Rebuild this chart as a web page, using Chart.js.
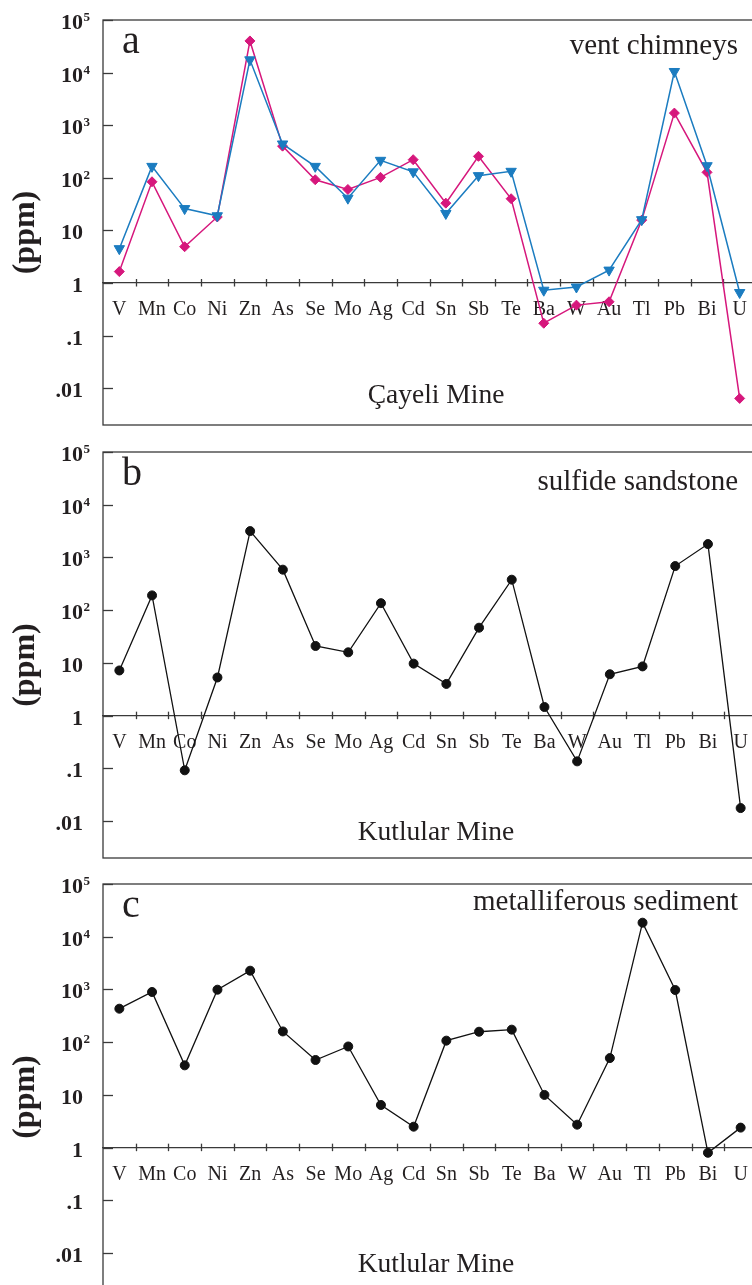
<!DOCTYPE html>
<html>
<head>
<meta charset="utf-8">
<script src="https://cdn.jsdelivr.net/npm/chart.js@4"></script>
<style>
  html, body { margin: 0; padding: 0; background: #fff; overflow: hidden; }
  #wrap { width: 763px; }
  canvas { display: block; }
</style>
</head>
<body>
<div id="wrap">
  <canvas id="chartA" width="763" height="432"></canvas>
  <canvas id="chartB" width="763" height="432"></canvas>
  <canvas id="chartC" width="763" height="432"></canvas>
</div>
<script>
// element order along the x axis
const elements = ['V', 'Mn', 'Co', 'Ni', 'Zn', 'As', 'Se', 'Mo', 'Ag', 'Cd', 'Sn', 'Sb', 'Te', 'Ba', 'W', 'Au', 'Tl', 'Pb', 'Bi', 'U'];

// y axis decades and their labels (base + superscript)
const yTickValues = [1e5, 1e4, 1e3, 1e2, 10, 1, 0.1, 0.01];
const yTickBase = ['10', '10', '10', '10', '10', '1', '.1', '.01'];
const yTickExp = ['5', '4', '3', '2', '', '', '', ''];

// ppm values
// a - Cayeli vent chimneys (two samples)
const chimneyBlue = [4.5, 165, 26, 19, 17500, 440, 165, 41, 215, 130, 21, 110, 133, 0.73, 0.84, 1.76, 16, 10500, 170, 0.66];
const chimneyMagenta = [1.65, 84, 4.9, 18, 40000, 400, 92, 60, 102, 221, 33, 256, 40, 0.172, 0.38, 0.44, 15.7, 1700, 127, 0.0064];
// b - Kutlular sulfide sandstone
const sulfideSandstone = [7.2, 191, 0.092, 5.3, 3160, 587, 21, 15.9, 136, 9.7, 4.0, 46.6, 379, 1.46, 0.136, 6.1, 8.6, 687, 1795, 0.0177];
// c - Kutlular metalliferous sediment
const metalliferousSediment = [432, 896, 36.4, 990, 2270, 160, 46, 83, 6.45, 2.5, 107, 158, 173, 10, 2.73, 50, 18460, 977, 0.8, 2.4];

const SERIF = '"Liberation Serif", "Times New Roman", serif';
const INK = '#231f20';
const FRAME = '#3a3a3a';
const BLUE = '#1b7cc0';
const MAGENTA = '#d6177c';

// draws frame, inner ticks, y labels with superscripts and panel captions
const panelDecor = {
    id: 'panelDecor',
    beforeDatasetsDraw(chart, args, opts) {
        const { ctx, chartArea: a, scales: { x, y } } = chart;
        ctx.save();

        ctx.strokeStyle = FRAME;
        ctx.lineWidth = 1.3;
        ctx.strokeRect(a.left, a.top, a.right - a.left, a.bottom - a.top);

        // y ticks pointing inward
        yTickValues.forEach((v, i) => {
            const py = Math.round(y.getPixelForValue(v)) + 0.5;
            ctx.beginPath();
            ctx.moveTo(a.left, py);
            ctx.lineTo(a.left + 10, py);
            ctx.stroke();

            ctx.fillStyle = INK;
            ctx.textAlign = 'right';
            ctx.textBaseline = 'alphabetic';
            ctx.font = 'bold 22px ' + SERIF;
            ctx.fillText(yTickBase[i], 83, py + 8.5);
            if (yTickExp[i]) {
                ctx.textAlign = 'left';
                ctx.font = 'bold 13px ' + SERIF;
                ctx.fillText(yTickExp[i], 83.5, py + 0.5);
            }
        });

        // x ticks between categories, crossing the y=1 line
        const py1 = y.getPixelForValue(1);
        for (let i = 0; i < elements.length - 1; i++) {
            const px = Math.round((x.getPixelForValue(i) + x.getPixelForValue(i + 1)) / 2) + 0.5;
            ctx.beginPath();
            ctx.moveTo(px, py1 - 4);
            ctx.lineTo(px, py1 + 3.5);
            ctx.stroke();
        }

        // axis title
        ctx.save();
        ctx.translate(26, (a.top + a.bottom) / 2 + 10);
        ctx.rotate(-Math.PI / 2);
        ctx.fillStyle = INK;
        ctx.textAlign = 'center';
        ctx.textBaseline = 'middle';
        ctx.font = 'bold 32px ' + SERIF;
        ctx.fillText('(ppm)', 0, 0);
        ctx.restore();

        ctx.fillStyle = INK;
        ctx.textBaseline = 'alphabetic';
        ctx.font = '40px ' + SERIF;
        ctx.textAlign = 'left';
        ctx.fillText(opts.letter, 122, a.top + 32.5);

        ctx.font = '29px ' + SERIF;
        ctx.textAlign = 'right';
        ctx.fillText(opts.sample, 738, a.top + opts.sampleDy);

        ctx.font = '27.5px ' + SERIF;
        ctx.textAlign = 'center';
        ctx.fillText(opts.mine, 436, a.bottom - opts.mineDy);

        ctx.restore();
    }
};

function lineSet(data, color, style, radius) {
    return {
        data: data,
        borderColor: color,
        backgroundColor: color,
        borderWidth: color === BLUE || color === MAGENTA ? 1.5 : 1.3,
        pointStyle: style,
        pointRotation: style === 'triangle' ? 180 : 0,
        pointRadius: radius,
        pointBorderWidth: 1,
        pointBackgroundColor: color,
        pointBorderColor: color,
        tension: 0,
        fill: false
    };
}

function makePanel(id, datasets, decor) {
    return new Chart(document.getElementById(id), {
        type: 'line',
        data: { labels: elements, datasets: datasets },
        plugins: [panelDecor],
        options: {
            responsive: false,
            animation: false,
            events: [],
            layout: { padding: { top: 20, bottom: 6, left: 0, right: 0 } },
            plugins: {
                legend: { display: false },
                tooltip: { enabled: false },
                panelDecor: decor
            },
            scales: {
                x: {
                    type: 'category',
                    position: { y: 1 },
                    offset: true,
                    grid: { display: true, drawOnChartArea: false, drawTicks: false, color: 'rgba(0,0,0,0)', offset: true },
                    border: { display: true, color: FRAME, width: 1.3 },
                    ticks: {
                        color: INK,
                        font: { family: SERIF, size: 20 },
                        padding: 15,
                        autoSkip: false,
                        maxRotation: 0
                    }
                },
                y: {
                    type: 'logarithmic',
                    min: 0.002,
                    max: 1e5,
                    grid: { display: false },
                    border: { display: false },
                    ticks: { display: false },
                    afterFit(scale) { scale.width = 103; }
                }
            }
        }
    });
}

makePanel('chartA', [
    lineSet(chimneyBlue, BLUE, 'triangle', 6),
    lineSet(chimneyMagenta, MAGENTA, 'rectRot', 5)
], { letter: 'a', sample: 'vent chimneys', mine: 'Çayeli Mine', sampleDy: 34, mineDy: 22 });

makePanel('chartB', [
    lineSet(sulfideSandstone, '#111', 'circle', 4.5)
], { letter: 'b', sample: 'sulfide sandstone', mine: 'Kutlular Mine', sampleDy: 38, mineDy: 18 });

makePanel('chartC', [
    lineSet(metalliferousSediment, '#111', 'circle', 4.5)
], { letter: 'c', sample: 'metalliferous sediment', mine: 'Kutlular Mine', sampleDy: 26, mineDy: 18 });
</script>
</body>
</html>
